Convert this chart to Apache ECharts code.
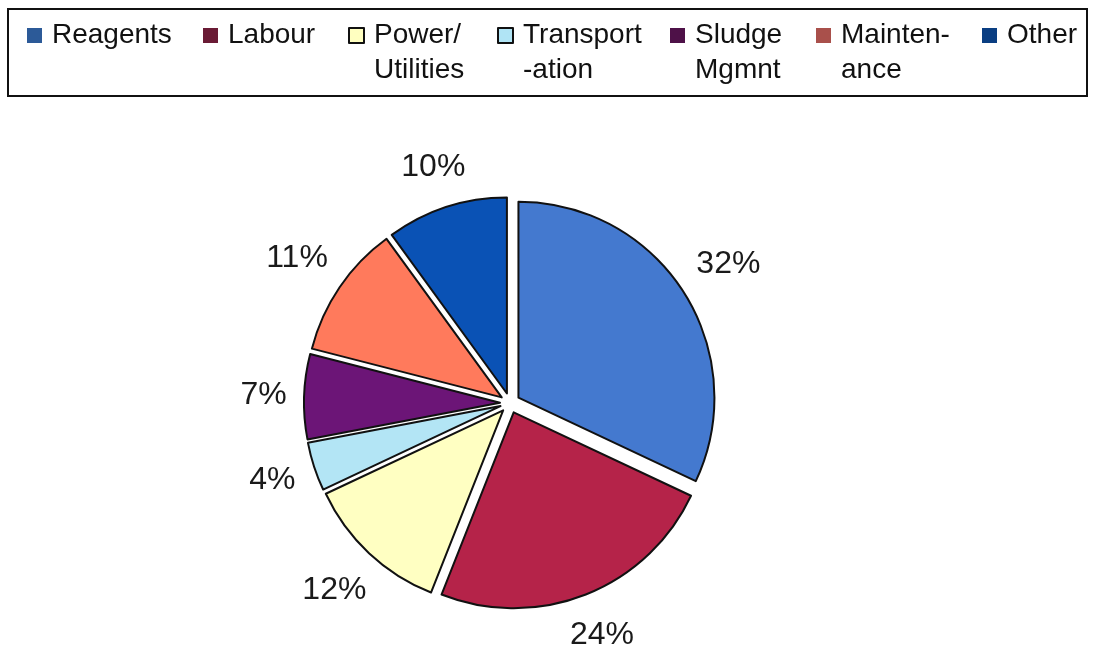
<!DOCTYPE html>
<html>
<head>
<meta charset="utf-8">
<script src="https://cdn.jsdelivr.net/npm/echarts@6/dist/echarts.min.js"></script>
<style>
  html, body { margin: 0; padding: 0; background: #fff; }
  #chart { width: 1094px; height: 645px; }
</style>
</head>
<body>
<div id="chart"></div>
<script>
// cost categories (legend text uses \n where the original wraps)
const categories = ['Reagents', 'Labour', 'Power/\nUtilities', 'Transport\n-ation', 'Sludge\nMgmnt', 'Mainten-\nance', 'Other'];
const shares = [32, 24, 12, 4, 7, 11, 10];
const sliceColors = ['#4479CF', '#B52349', '#FFFFC2', '#B3E5F5', '#6C1577', '#FF7A5C', '#0A52B5'];
const legendColors = ['#2C5A98', '#6A1B35', '#FFFFC0', '#B0E4F5', '#4E1148', '#A9504B', '#0A3E82'];

// legend icon left edges (px)
const legendLeft = [27, 203, 348, 497, 670, 816, 982];

const CX = 510, CY = 403;
const font = 'Liberation Sans, Arial, sans-serif';

const chart = echarts.init(document.getElementById('chart'));

let legends = categories.map(function (name, i) {
  const twoLine = name.indexOf('\n') >= 0;
  const light = i === 2 || i === 3;
  return {
    left: legendLeft[i],
    top: twoLine ? -17 : 18,
    padding: 0,
    selectedMode: false,
    itemWidth: 15,
    itemHeight: 15,
    icon: 'rect',
    // leading blank line keeps the first line level with the icon
    formatter: function (n) { return n.indexOf('\n') >= 0 ? '\n' + n : n; },
    textStyle: {
      fontFamily: font,
      fontSize: 28,
      color: '#111',
      lineHeight: 35,
      padding: [0, 0, 0, 5]
    },
    data: [{
      name: name,
      itemStyle: {
        color: legendColors[i],
        borderColor: light ? '#111' : legendColors[i],
        borderWidth: light ? 2 : 0
      }
    }]
  };
});

let pieData = categories.map(function (name, i) {
  return {
    name: name,
    value: shares[i],
    selected: true,
    itemStyle: { color: sliceColors[i] }
  };
});

let labelData = categories.map(function (name, i) {
  return { name: name, value: shares[i] };
});

let option = {
  backgroundColor: '#fff',
  animation: false,
  legend: legends,
  graphic: [{
    type: 'rect',
    shape: { x: 8, y: 9, width: 1079, height: 87 },
    style: { fill: 'none', stroke: '#111', lineWidth: 2 },
    silent: true
  }],
  series: [
    {
      type: 'pie',
      center: [CX, CY],
      radius: 196,
      startAngle: 90,
      clockwise: true,
      selectedMode: 'multiple',
      selectedOffset: 10,
      avoidLabelOverlap: false,
      label: { show: false },
      labelLine: { show: false },
      itemStyle: { borderColor: '#111', borderWidth: 2 },
      select: { itemStyle: { borderColor: '#111', borderWidth: 2 } },
      emphasis: { disabled: true },
      data: pieData
    },
    {
      // transparent ring that only carries the percentage labels
      type: 'pie',
      center: [CX, CY],
      radius: [218, 222],
      startAngle: 90,
      clockwise: true,
      silent: true,
      avoidLabelOverlap: false,
      itemStyle: { color: 'rgba(0,0,0,0)', borderWidth: 0 },
      emphasis: { disabled: true },
      label: {
        show: true,
        position: 'inside',
        formatter: function (p) { return p.value + '%'; },
        fontFamily: font,
        fontSize: 32,
        color: '#1a1a1a'
      },
      labelLine: { show: false },
      // push each label out so its box edge sits just off the ring
      labelLayout: function (p) {
        const r = p.labelRect;
        const mx = r.x + r.width / 2, my = r.y + r.height / 2;
        const dx = mx - CX, dy = my - CY;
        const d = Math.sqrt(dx * dx + dy * dy);
        const nx = dx / d, ny = dy / d;
        const h = Math.abs(nx) * r.width / 2 + Math.abs(ny) * r.height / 2;
        return { x: mx + nx * h, y: my + ny * h, align: 'center', verticalAlign: 'middle' };
      },
      data: labelData
    }
  ]
};

chart.setOption(option);
</script>
</body>
</html>
